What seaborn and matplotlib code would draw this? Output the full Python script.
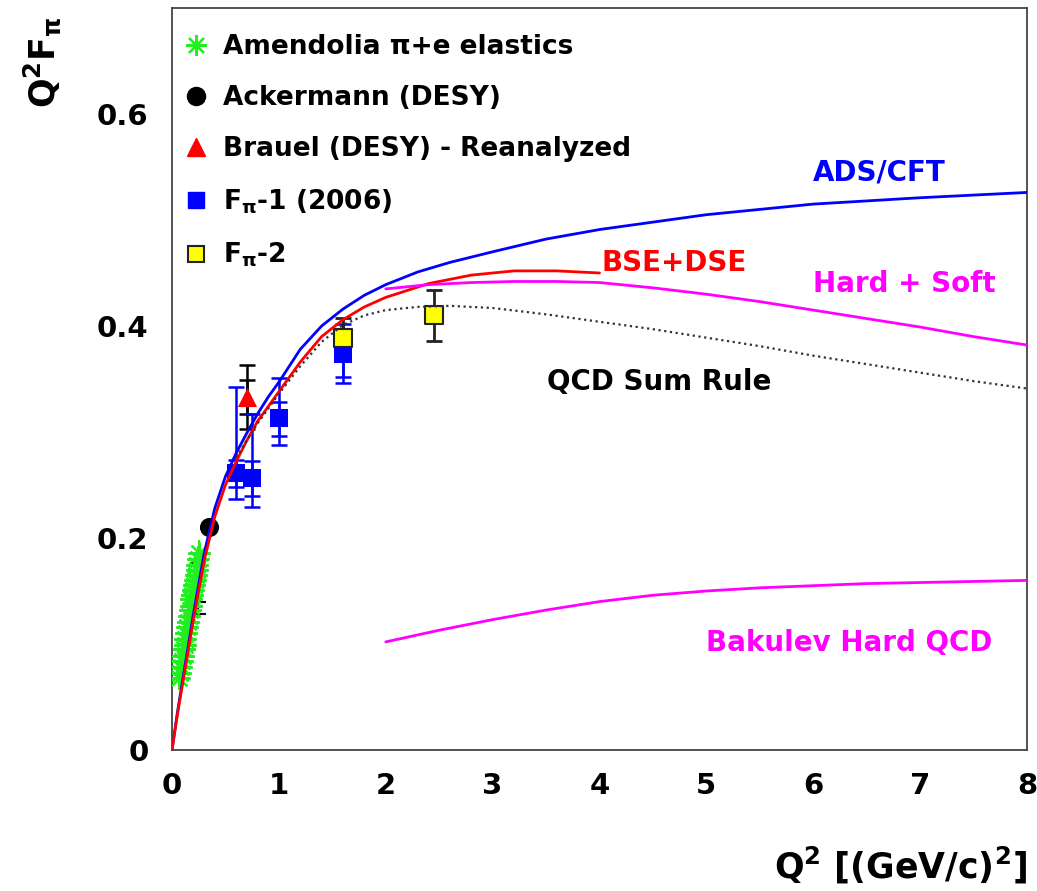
import numpy as np
import pandas as pd
import matplotlib
matplotlib.use("Agg")
import matplotlib.pyplot as plt
import seaborn as sns
from matplotlib.lines import Line2D
from matplotlib.ticker import MultipleLocator, FixedLocator

# ---------------- data ----------------
# Amendolia pi+e elastics (Q^2, Q^2 F_pi, error)
amend_q2 = [0.070, 0.078, 0.086, 0.094, 0.102, 0.110, 0.118, 0.126, 0.134, 0.142, 0.150, 0.158,
            0.166, 0.174, 0.182, 0.190, 0.198, 0.206, 0.214, 0.222, 0.230, 0.238, 0.246, 0.253]
amend_f = [0.068, 0.073, 0.078, 0.084, 0.089, 0.095, 0.099, 0.105, 0.110, 0.116, 0.121, 0.126,
           0.132, 0.136, 0.142, 0.146, 0.151, 0.156, 0.160, 0.165, 0.170, 0.175, 0.180, 0.186]
amend_err = [0.006, 0.006, 0.006, 0.007, 0.007, 0.007, 0.007, 0.008, 0.008, 0.008, 0.008, 0.009,
             0.009, 0.009, 0.009, 0.010, 0.010, 0.010, 0.010, 0.011, 0.011, 0.011, 0.012, 0.012]

# black error bar (older DESY point) hidden under the green stars
old_q2 = [0.245]
old_f = [0.152]
old_err_in = [0.012]
old_err_out = [0.024]

# Ackermann (DESY)
ack_q2 = [0.35]
ack_f = [0.210]

# Brauel (DESY) - reanalyzed
brau_q2 = [0.70]
brau_f = [0.333]
brau_err_in = [0.016]
brau_err_out = [0.030]

# F_pi-1 (2006)
fp1_q2 = [0.60, 0.75, 1.00, 1.60]
fp1_f = [0.261, 0.257, 0.313, 0.374]
fp1_lo_in = [0.013, 0.017, 0.017, 0.022]
fp1_hi_in = [0.013, 0.016, 0.015, 0.022]
fp1_lo_out = [0.024, 0.028, 0.025, 0.028]
fp1_hi_out = [0.081, 0.060, 0.038, 0.028]

# F_pi-2
fp2_q2 = [1.60, 2.45]
fp2_f = [0.389, 0.410]
fp2_err = [0.019, 0.024]

# model curves
ads_q2 = [0.0, 0.05, 0.1, 0.2, 0.3, 0.4, 0.5, 0.6, 0.7, 0.8, 0.9, 1.0, 1.2, 1.4, 1.6, 1.8, 2.0,
          2.3, 2.6, 3.0, 3.5, 4.0, 5.0, 6.0, 7.0, 8.0]
ads_f = [0.0, 0.035, 0.066, 0.128, 0.185, 0.228, 0.258, 0.280, 0.299, 0.317, 0.333, 0.347, 0.378,
         0.400, 0.416, 0.429, 0.439, 0.451, 0.460, 0.470, 0.482, 0.491, 0.505, 0.515, 0.521, 0.526]

bse_q2 = [0.0, 0.05, 0.1, 0.2, 0.3, 0.4, 0.5, 0.6, 0.7, 0.8, 1.0, 1.2, 1.4, 1.6, 1.8, 2.0, 2.4,
          2.8, 3.2, 3.6, 4.0]
bse_f = [0.0, 0.033, 0.063, 0.123, 0.178, 0.220, 0.250, 0.272, 0.292, 0.310, 0.338, 0.366, 0.390,
         0.406, 0.418, 0.427, 0.440, 0.448, 0.452, 0.452, 0.450]

hs_q2 = [2.0, 2.4, 2.8, 3.2, 3.6, 4.0, 4.5, 5.0, 5.5, 6.0, 6.5, 7.0, 7.5, 8.0]
hs_f = [0.435, 0.439, 0.441, 0.442, 0.442, 0.441, 0.436, 0.430, 0.423, 0.415, 0.407, 0.399, 0.390, 0.382]

sr_q2 = [0.6, 0.8, 1.0, 1.2, 1.4, 1.6, 1.8, 2.0, 2.3, 2.6, 3.0, 3.5, 4.0, 4.5, 5.0, 5.5, 6.0,
         6.5, 7.0, 7.5, 8.0]
sr_f = [0.276, 0.308, 0.336, 0.362, 0.385, 0.401, 0.410, 0.415, 0.418, 0.419, 0.417, 0.411, 0.404,
        0.397, 0.389, 0.381, 0.372, 0.364, 0.356, 0.348, 0.341]

bak_q2 = [2.0, 2.5, 3.0, 3.5, 4.0, 4.5, 5.0, 5.5, 6.0, 6.5, 7.0, 7.5, 8.0]
bak_f = [0.102, 0.113, 0.123, 0.132, 0.140, 0.146, 0.150, 0.153, 0.155, 0.157, 0.158, 0.159, 0.160]

x_ticks = [0, 1, 2, 3, 4, 5, 6, 7, 8]
x_ticklabels = ["0", "1", "2", "3", "4", "5", "6", "7", "8"]
y_ticks = [0.0, 0.2, 0.4, 0.6]
y_ticklabels = ["0", "0.2", "0.4", "0.6"]

legend_labels = ["Amendolia \u03c0+e elastics", "Ackermann (DESY)", "Brauel (DESY) - Reanalyzed",
                 r"F$_{\pi}$-1 (2006)", r"F$_{\pi}$-2"]
curve_labels = ["ADS/CFT", "BSE+DSE", "Hard + Soft", "QCD Sum Rule", "Bakulev Hard QCD"]

# ---------------- style ----------------
sns.set_style("white")
plt.rcParams["font.family"] = ["DejaVu Sans"]
plt.rcParams["font.weight"] = "bold"
plt.rcParams["mathtext.fontset"] = "dejavusans"
plt.rcParams["mathtext.default"] = "bf"
plt.rcParams["text.color"] = "black"
plt.rcParams["axes.labelcolor"] = "black"
plt.rcParams["xtick.color"] = "black"
plt.rcParams["ytick.color"] = "black"

BLUE = "#0000ff"
RED = "#ff0000"
MAG = "#ff00ff"
GREEN = "#22ee22"

fig = plt.figure(figsize=(10.37, 8.91), dpi=100)
ax = fig.add_axes([172 / 1037, 1 - 750 / 891, 855 / 1037, 742 / 891])

# ---------------- error bars ----------------
ax.errorbar(amend_q2, amend_f, yerr=amend_err, fmt="none", ecolor=GREEN, elinewidth=1.5, capsize=0, zorder=2)
ax.errorbar(old_q2, old_f, yerr=old_err_out, fmt="none", ecolor="black", elinewidth=1.5, capsize=6, capthick=1.5, zorder=1)
ax.errorbar(old_q2, old_f, yerr=old_err_in, fmt="none", ecolor="black", elinewidth=1.5, capsize=6, capthick=1.5, zorder=1)
ax.errorbar(brau_q2, brau_f, yerr=brau_err_out, fmt="none", ecolor="black", elinewidth=1.8, capsize=6, capthick=1.8, zorder=2)
ax.errorbar(brau_q2, brau_f, yerr=brau_err_in, fmt="none", ecolor="black", elinewidth=1.8, capsize=6, capthick=1.8, zorder=2)
ax.errorbar(fp1_q2, fp1_f, yerr=[fp1_lo_out, fp1_hi_out], fmt="none", ecolor=BLUE, elinewidth=1.8, capsize=6, capthick=1.8, zorder=2)
ax.errorbar(fp1_q2, fp1_f, yerr=[fp1_lo_in, fp1_hi_in], fmt="none", ecolor=BLUE, elinewidth=1.8, capsize=6, capthick=1.8, zorder=2)
ax.errorbar(fp2_q2, fp2_f, yerr=fp2_err, fmt="none", ecolor="#222222", elinewidth=2.0, capsize=6, capthick=2.0, zorder=3)

# ---------------- markers ----------------
ax.plot(amend_q2, amend_f, ls="none", marker=(8, 2, 0), ms=16, mew=1.6, color=GREEN, zorder=3)
sns.scatterplot(x=ack_q2, y=ack_f, ax=ax, marker="o", s=190, color="black", linewidth=0, zorder=3)
sns.scatterplot(x=brau_q2, y=brau_f, ax=ax, marker="^", s=190, color=RED, linewidth=0, zorder=3)
sns.scatterplot(x=fp1_q2, y=fp1_f, ax=ax, marker="s", s=150, color=BLUE, linewidth=0, zorder=3)
sns.scatterplot(x=fp2_q2, y=fp2_f, ax=ax, marker="s", s=150, color="#ffff00", edgecolor="#222222", linewidth=1.5, zorder=4)

# ---------------- curves ----------------
sns.lineplot(x=ads_q2, y=ads_f, ax=ax, color=BLUE, lw=2.0, sort=False, estimator=None, zorder=5)
sns.lineplot(x=bse_q2, y=bse_f, ax=ax, color=RED, lw=2.0, sort=False, estimator=None, zorder=5)
sns.lineplot(x=hs_q2, y=hs_f, ax=ax, color=MAG, lw=2.0, sort=False, estimator=None, zorder=5)
sns.lineplot(x=sr_q2, y=sr_f, ax=ax, color="#333333", lw=1.6, ls=(0, (1, 1.6)), sort=False, estimator=None, zorder=5)
sns.lineplot(x=bak_q2, y=bak_f, ax=ax, color=MAG, lw=2.0, sort=False, estimator=None, zorder=5)

# ---------------- curve labels ----------------
tk = dict(fontsize=20, fontweight="bold", va="center", ha="left")
ax.text(6.0, 0.545, curve_labels[0], color=BLUE, **tk)
ax.text(4.02, 0.459, curve_labels[1], color=RED, **tk)
ax.text(6.0, 0.440, curve_labels[2], color=MAG, **tk)
ax.text(3.51, 0.347, curve_labels[3], color="black", **tk)
ax.text(5.0, 0.101, curve_labels[4], color=MAG, **tk)

# ---------------- axes ----------------
ax.set_xlim(0, 8)
ax.set_ylim(0, 0.7)
ax.xaxis.set_major_locator(FixedLocator(x_ticks))
ax.set_xticklabels(x_ticklabels)
ax.xaxis.set_minor_locator(MultipleLocator(0.5))
ax.yaxis.set_major_locator(FixedLocator(y_ticks))
ax.set_yticklabels(y_ticklabels)
ax.yaxis.set_minor_locator(MultipleLocator(0.05))
ax.tick_params(which="both", direction="in", top=False, right=False, color="#333333", width=1.3)
ax.tick_params(axis="x", which="major", length=12, pad=16, labelsize=21)
ax.tick_params(axis="y", which="major", length=12, pad=17, labelsize=21)
ax.tick_params(which="minor", length=6.5)
for lab in ax.get_xticklabels() + ax.get_yticklabels():
    lab.set_fontweight("bold")
for sp in ax.spines.values():
    sp.set_color("#444444")
    sp.set_linewidth(1.3)

ax.set_xlabel(r"Q$^{2}$ [(GeV/c)$^{2}$]", fontsize=25, fontweight="bold", ha="right", va="center")
ax.xaxis.set_label_coords(1.0, -0.155)
fig.text(42 / 1037, 1 - 62 / 891, r"Q$^{2}$F$_{\pi}$", fontsize=25, fontweight="bold",
         rotation=90, ha="center", va="center")

# ---------------- legend ----------------
handles = [
    Line2D([], [], ls="none", marker=(8, 2, 0), ms=15, mew=1.6, color=GREEN),
    Line2D([], [], ls="none", marker="o", ms=13, color="black"),
    Line2D([], [], ls="none", marker="^", ms=13, color=RED),
    Line2D([], [], ls="none", marker="s", ms=12, color=BLUE),
    Line2D([], [], ls="none", marker="s", ms=12, markerfacecolor="#ffff00", markeredgecolor="#222222", mew=1.5),
]
leg = ax.legend(handles, legend_labels, loc="upper left", bbox_to_anchor=(0.013, 0.965),
                frameon=False, fontsize=19, handlelength=1.0, handletextpad=0.5,
                labelspacing=0.95, borderpad=0, borderaxespad=0)
for t in leg.get_texts():
    t.set_fontweight("bold")

fig.savefig("out.png", dpi=100)
